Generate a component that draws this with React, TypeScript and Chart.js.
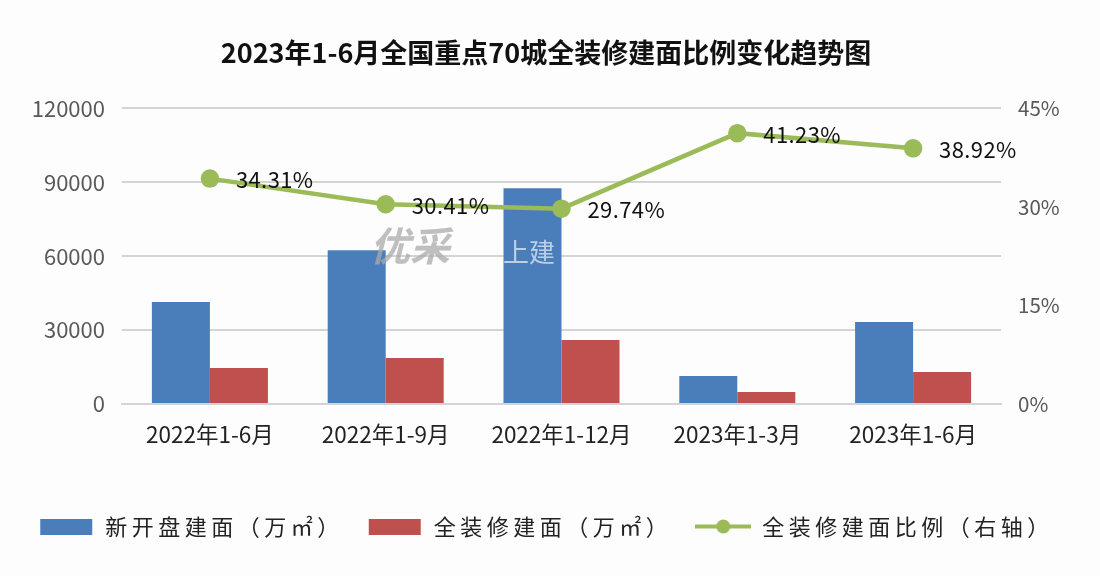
import React, { useEffect, useRef } from 'react';
import { Chart, registerables } from 'chart.js';

Chart.register(...registerables);

const FONT = '"Noto Sans CJK SC", "Noto Sans", sans-serif';
const BLUE = '#4a7ebb';
const RED = '#c0504d';
const GREEN = '#9bbb59';

const chartTitle = '2023年1-6月全国重点70城全装修建面比例变化趋势图';
const periods = ['2022年1-6月', '2022年1-9月', '2022年1-12月', '2023年1-3月', '2023年1-6月'];
const newArea = [41400, 62400, 87600, 11400, 33300];
const fitoutArea = [14600, 18700, 26000, 4900, 13000];
const fitoutRatio = [34.31, 30.41, 29.74, 41.23, 38.92];
const seriesNames = ['新开盘建面（万㎡）', '全装修建面（万㎡）', '全装修建面比例（右轴）'];

// legend swatches, the built-in line style has no dot on it
const makeSwatch = (color: string, isLine: boolean) => {
    const c = document.createElement('canvas');
    c.width = 56;
    c.height = 20;
    const g = c.getContext('2d')!;
    g.fillStyle = color;
    if (isLine) {
        g.fillRect(0, 7.5, 56, 4);
        g.beginPath();
        g.arc(28, 9.5, 7, 0, Math.PI * 2);
        g.fill();
    } else {
        g.fillRect(2, 2, 52, 16);
    }
    return c;
};

// spaced out legend text + value labels + the watermark
const extras = {
    id: 'extras',
    beforeLayout(chart: any) {
        const legend = chart.legend;
        if (!legend || legend._spaced) return;
        legend._spaced = true;
        const fit = legend.fit.bind(legend);
        const draw = legend.draw.bind(legend);
        legend.fit = () => {
            chart.ctx.save();
            chart.ctx.letterSpacing = '4.5px';
            fit();
            chart.ctx.restore();
        };
        legend.draw = () => {
            chart.ctx.save();
            chart.ctx.letterSpacing = '4.5px';
            draw();
            chart.ctx.restore();
        };
    },
    afterDatasetsDraw(chart: any) {
        const ctx = chart.ctx;
        const points = chart.getDatasetMeta(2).data;
        ctx.save();
        ctx.font = `22px ${FONT}`;
        ctx.letterSpacing = '0.4px';
        ctx.fillStyle = '#111111';
        ctx.textAlign = 'left';
        ctx.textBaseline = 'middle';
        points.forEach((p: any, i: number) => {
            ctx.fillText(fitoutRatio[i].toFixed(2) + '%', p.x + 26, p.y + 1);
        });
        ctx.letterSpacing = '0px';
        ctx.font = `italic bold 40px ${FONT}`;
        ctx.fillStyle = 'rgba(170, 170, 170, 0.75)';
        ctx.fillText('优采', 370, 246);
        ctx.font = `26px ${FONT}`;
        ctx.fillStyle = 'rgba(225, 235, 245, 0.75)';
        ctx.fillText('上建', 503, 252);
        ctx.restore();
    },
};

const App: React.FC = () => {
    const chartRef = useRef<HTMLCanvasElement | null>(null);

    useEffect(() => {
        const ctx = chartRef.current?.getContext('2d');
        if (!ctx) {
            return;
        }

        const swatches = [makeSwatch(BLUE, false), makeSwatch(RED, false), makeSwatch(GREEN, true)];

        const myChart = new Chart(ctx, {
            type: 'bar',
            data: {
                labels: periods,
                datasets: [
                    { label: seriesNames[0], data: newArea, backgroundColor: BLUE, yAxisID: 'y', order: 2, categoryPercentage: 0.66, barPercentage: 1 },
                    { label: seriesNames[1], data: fitoutArea, backgroundColor: RED, yAxisID: 'y', order: 2, categoryPercentage: 0.66, barPercentage: 1 },
                    {
                        type: 'line',
                        label: seriesNames[2],
                        data: fitoutRatio,
                        borderColor: GREEN,
                        backgroundColor: GREEN,
                        borderWidth: 4.5,
                        pointRadius: 7,
                        pointBackgroundColor: GREEN,
                        pointBorderColor: GREEN,
                        tension: 0,
                        yAxisID: 'y1',
                        order: 1,
                    },
                ],
            } as any,
            options: {
                responsive: false,
                animation: false,
                layout: { padding: { right: 8, bottom: 28 } },
                plugins: {
                    tooltip: { enabled: false },
                    title: {
                        display: true,
                        text: chartTitle,
                        color: '#111111',
                        font: { family: FONT, size: 27, weight: 'bold' },
                        padding: { top: 37, bottom: 39 },
                    },
                    legend: {
                        display: true,
                        position: 'bottom',
                        labels: {
                            color: '#222222',
                            font: { family: FONT, size: 22 },
                            usePointStyle: true,
                            pointStyleWidth: 56,
                            padding: 23,
                            generateLabels: () =>
                                seriesNames.map((text, i) => ({
                                    text,
                                    datasetIndex: i,
                                    pointStyle: swatches[i],
                                    fontColor: '#222222',
                                    lineWidth: 0,
                                    hidden: false,
                                })),
                        },
                    },
                },
                scales: {
                    x: {
                        grid: { display: false },
                        border: { color: '#d4d4d4', width: 2 },
                        ticks: { color: '#222222', font: { family: FONT, size: 22.5 }, padding: 9, maxRotation: 0, autoSkip: false },
                        afterFit: (scale: any) => {
                            scale.height = 89;
                        },
                    },
                    y: {
                        position: 'left',
                        min: 0,
                        max: 120000,
                        grid: { color: '#d4d4d4', lineWidth: 2, drawTicks: false },
                        border: { display: false },
                        ticks: { stepSize: 30000, color: '#595959', font: { family: FONT, size: 22 }, padding: 17, callback: (v: any) => String(v) },
                        afterFit: (scale: any) => {
                            scale.width = 122;
                        },
                    },
                    y1: {
                        position: 'right',
                        min: 0,
                        max: 45,
                        grid: { display: false, drawTicks: false },
                        border: { display: false },
                        ticks: { stepSize: 15, color: '#595959', font: { family: FONT, size: 20.5 }, padding: 17, callback: (v: any) => v + '%' },
                        afterFit: (scale: any) => {
                            scale.width = 91;
                        },
                    },
                },
            },
            plugins: [extras],
        } as any);

        return () => {
            myChart.destroy();
        };
    }, []);

    return (
        <div style={{ position: 'absolute', left: 0, top: 0, width: 1100, height: 576, background: '#fdfdfe' }}>
            <canvas ref={chartRef} width={1100} height={576} style={{ display: 'block' }} />
        </div>
    );
};

export default App;
